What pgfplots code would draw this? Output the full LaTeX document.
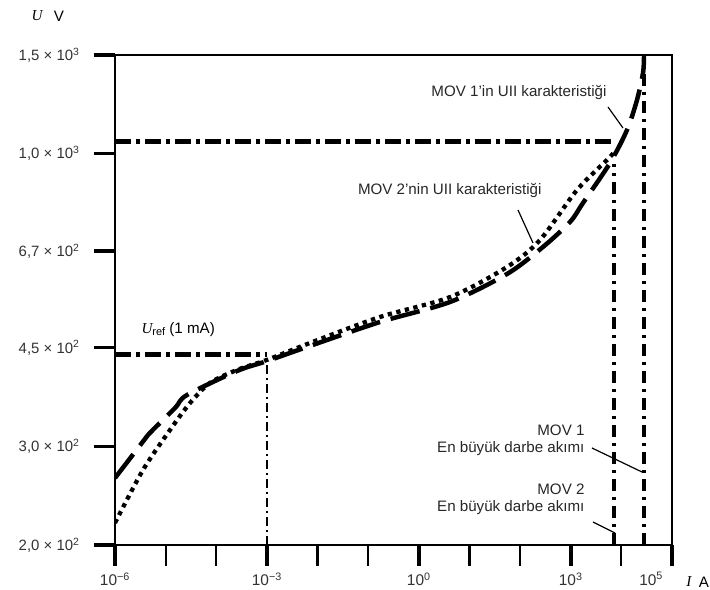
\documentclass[border=0pt]{standalone}
\usepackage{fontspec}
\setmainfont{Liberation Sans}
\newfontfamily\serif{Liberation Serif}
\usepackage{pgfplots}
\pgfplotsset{compat=1.18}
\begin{document}
\begin{tikzpicture}[font=\fontsize{15.2}{17}\selectfont]
\begin{axis}[
  scale only axis, width=557bp, height=490bp,
  xmode=log, ymode=log,
  xmin=1e-6, xmax=1e5, ymin=200, ymax=1500,
  axis line style={line width=2bp},
  xminorticks=false, yminorticks=false,
  tick align=outside,
  xtick pos=bottom, ytick pos=left,
  major tick length=21bp,
  tick style={black, line width=2.2bp},
  xtick={1e-5,1e-4,1e-2,1e-1,1e1,1e2,1e4},
  xticklabels={},
  extra x ticks={1e-6,1e-3,1,1e3,1e5},
  extra x tick labels={10\textsuperscript{−6},10\textsuperscript{−3},10\textsuperscript{0},10\textsuperscript{3},{\hbox to 0pt{\hss 10\textsuperscript{5}\hskip 9bp}}},
  extra x tick style={tick style={black, line width=3.6bp}},
  ytick={200,300,450,670,1000,1500},
  yticklabels={{2,0 × 10\textsuperscript{2}},{3,0 × 10\textsuperscript{2}},{4,5 × 10\textsuperscript{2}},{6,7 × 10\textsuperscript{2}},{1,0 × 10\textsuperscript{3}},{1,5 × 10\textsuperscript{3}}},
  y tick style={line width=3.2bp},
  xticklabel style={font=\fontsize{15.5}{17}\selectfont, yshift=-3bp, text=black!80},
  yticklabel style={font=\fontsize{15}{17}\selectfont, xshift=-11bp, text=black!80},
]
% MOV 1 (dashed)
\addplot[black, line width=4.5bp, dash pattern=on 30bp off 11bp, smooth] coordinates {
(1e-6,263.4) (2.85e-6,298.0) (4.48e-6,314.4) (1.53e-5,351.3) (2.64e-5,370.6)
(2.57e-4,409) (1e-3,426) (7.1e-3,453.4) (0.171,500.3) (4.13,543.2) (55.1,609.5)
(283.5,681.2) (967.6,754.9) (1747,816.3) (5965,962.1) (12925,1101.9) (20366,1246.6)
(26755,1393) (28000,1490)};
% MOV 2 (dotted)
\addplot[black, line width=4.3bp, dash pattern=on 4.3bp off 4.5bp, smooth] coordinates {
(1.0e-6,219) (3.57e-6,272.2) (1.22e-5,320.9) (3.03e-5,358.5) (7.52e-5,389.4)
(2.57e-4,410.8) (1e-3,428.1) (7.1e-3,459.0) (0.171,510.7) (4.13,554.3) (55.1,627.3)
(247,700.9) (1330,860.9) (5965,986.1) (7200,1012)};
% reference lines
\addplot[black, line width=5bp, dash pattern=on 16bp off 5bp on 4bp off 5bp] coordinates {(1e-6,437) (1e-3,437)};
\addplot[black, line width=5bp, dash pattern=on 16bp off 5bp on 4bp off 5bp] coordinates {(1e-6,1050) (7160,1050)};
\addplot[black, line width=1.5bp, dash pattern=on 9bp off 4bp on 2bp off 4bp] coordinates {(1e-3,200) (1e-3,430)};
\addplot[black, line width=4bp, dash pattern=on 12bp off 6bp on 3bp off 6bp] coordinates {(7160,200) (7160,960)};
\addplot[black, line width=4bp, dash pattern=on 12bp off 6bp on 3bp off 6bp] coordinates {(28000,200) (28000,1500)};
\coordinate (O) at (rel axis cs:0,0);
\end{axis}
\begin{scope}[shift={(O)}, x=1bp, y=-1bp, shift={(-115,-545)}]
  \node at (37,16) {\serif\itshape U};
  \node at (59,16) {V};
  \node[anchor=west] at (138,330) {{\serif\itshape U}\raisebox{-2bp}{\fontsize{11}{12}\selectfont ref} (1 mA)};
  \node[anchor=east, text=black!85] at (610,92) {MOV 1'in UII karakteristiği};
  \node[anchor=east, text=black!85] at (545,190) {MOV 2'nin UII karakteristiği};
  \node[anchor=east, align=right, text=black!85] at (588,440.5) {MOV 1\\En büyük darbe akımı};
  \node[anchor=east, align=right, text=black!85] at (588,499) {MOV 2\\En büyük darbe akımı};
  \node at (689,582) {\serif\itshape I};
  \node at (704,582) {A};
  \draw[line width=1.2bp] (608,107) -- (623,128);
  \draw[line width=1.2bp] (518,210) -- (533,243);
  \draw[line width=1.2bp] (592,448) -- (642,472);
  \draw[line width=1.2bp] (593,522) -- (615,533);
\end{scope}
\pgfresetboundingbox
\path[use as bounding box] (O) ++(-115bp,-45bp) rectangle ++(710bp,590bp);
\end{tikzpicture}
\end{document}
